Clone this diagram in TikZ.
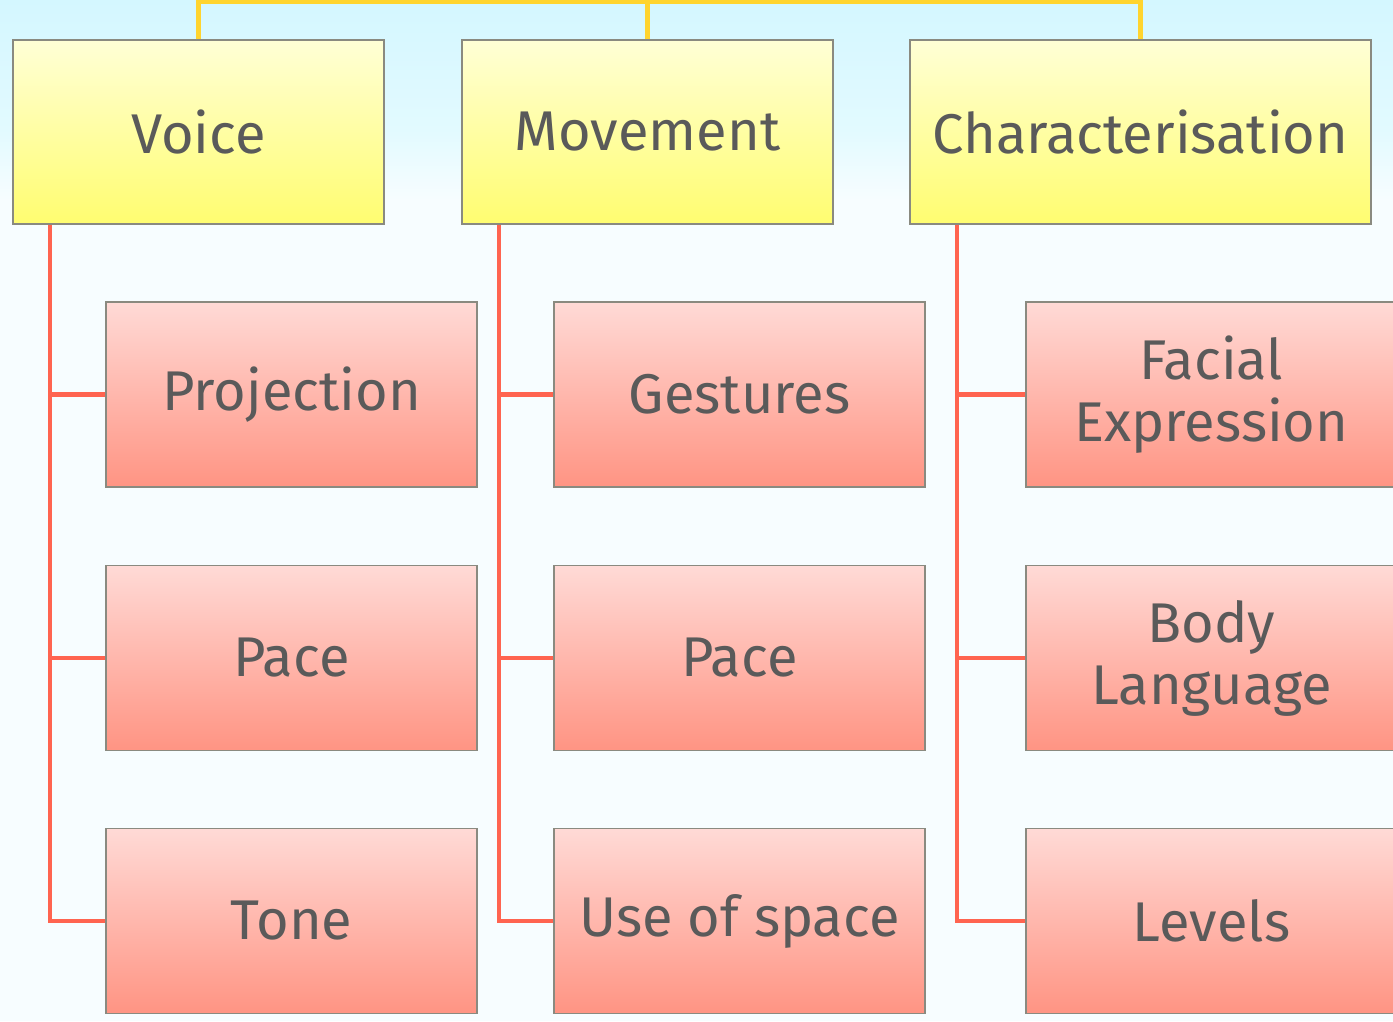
\documentclass[tikz,border=0pt]{standalone}
\usepackage{fontspec}
\setmainfont{Fira Sans}
\begin{document}
\begin{tikzpicture}[x=1pt,y=-1pt,
  lbl/.style={font=\fontsize{56}{62}\selectfont, text=textgrey, align=center},
  topbox/.style={lbl, rectangle, draw=boxedge, line width=1.5pt, top color=ytop, bottom color=ybot, minimum width=371pt, minimum height=184pt, inner sep=0pt},
  subbox/.style={lbl, rectangle, draw=boxedge, line width=1.5pt, top color=rtop, bottom color=rbot, minimum width=371pt, minimum height=185pt, inner sep=0pt},
  yline/.style={draw=yel, line width=4.5pt},
  rline/.style={draw=redl, line width=4.5pt}]
\definecolor{textgrey}{HTML}{5A5A5A}
\definecolor{boxedge}{HTML}{8A8A80}
\definecolor{ytop}{HTML}{FFFFD6}
\definecolor{ybot}{HTML}{FFFD70}
\definecolor{rtop}{HTML}{FFDAD6}
\definecolor{rbot}{HTML}{FF9483}
\definecolor{yel}{HTML}{FFD42E}
\definecolor{redl}{HTML}{FF6450}
\definecolor{skytop}{HTML}{D4F7FF}
\definecolor{skymid}{HTML}{E2FAFF}
\definecolor{paper}{HTML}{F7FDFF}
\useasboundingbox (0,0) rectangle (1393,1021);
\clip (0,0) rectangle (1393,1021);
\fill[paper] (0,0) rectangle (1393,1021);
\shade[top color=skytop, bottom color=skymid] (0,0) rectangle (1393,130);
\shade[top color=skymid, bottom color=paper] (0,130) rectangle (1393,200);
% top boxes
\node[topbox] (voice) at (198.5,132) {Voice};
\node[topbox] (move) at (647.5,132) {Movement};
\node[topbox, minimum width=461pt] (char) at (1140.5,132) {Characterisation};
% sub boxes
\node[subbox] (proj) at (291.5,394.5) {Projection};
\node[subbox] (pace1) at (291.5,658) {Pace};
\node[subbox] (tone) at (291.5,921) {Tone};
\node[subbox] (gest) at (739.5,394.5) {Gestures};
\node[subbox] (pace2) at (739.5,658) {Pace};
\node[subbox] (space) at (739.5,921) {Use of space};
\node[subbox] (face) at (1211.5,394.5) {Facial\\Expression};
\node[subbox] (body) at (1211.5,658) {Body\\Language};
\node[subbox] (levels) at (1211.5,921) {Levels};
% yellow connectors
\coordinate (ytop) at (0,2);
\draw[yline] (voice.north) -- (voice.north |- ytop) -| (char.north);
\draw[yline] (move.north) -- (move.north |- ytop);
% red connectors
\coordinate (vx) at (50,0);
\coordinate (mx) at (499,0);
\coordinate (cx) at (957,0);
\draw[rline] (vx |- voice.south) -- (vx |- tone.west) -- (tone.west);
\draw[rline] (vx |- proj.west) -- (proj.west);
\draw[rline] (vx |- pace1.west) -- (pace1.west);
\draw[rline] (mx |- move.south) -- (mx |- space.west) -- (space.west);
\draw[rline] (mx |- gest.west) -- (gest.west);
\draw[rline] (mx |- pace2.west) -- (pace2.west);
\draw[rline] (cx |- char.south) -- (cx |- levels.west) -- (levels.west);
\draw[rline] (cx |- face.west) -- (face.west);
\draw[rline] (cx |- body.west) -- (body.west);
\end{tikzpicture}
\end{document}
